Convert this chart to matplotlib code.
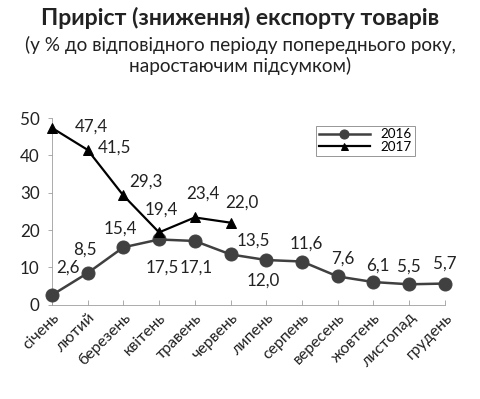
import matplotlib.pyplot as plt

plt.rcParams['font.family'] = ['Lato', 'DejaVu Sans']

months = ['січень', 'лютий', 'березень', 'квітень', 'травень', 'червень',
          'липень', 'серпень', 'вересень', 'жовтень', 'листопад', 'грудень']
v2016 = [2.6, 8.5, 15.4, 17.5, 17.1, 13.5, 12.0, 11.6, 7.6, 6.1, 5.5, 5.7]
v2017 = [47.4, 41.5, 29.3, 19.4, 23.4, 22.0]

# label offsets (px) for data labels
off2016 = [(16, 28), (-3, 23), (-3, 19), (3, -28), (1, -27), (23, 14),
           (-3, -21), (4, 18), (5, 18), (4, 16), (0, 18), (0, 20)]
off2017 = [(40, 1), (27, 2), (23, 14), (2, 23), (8, 24), (11, 20)]

fig = plt.figure(figsize=(480 / 72, 399 / 72), dpi=72)
ax = fig.add_axes([0.108, 0.236, 0.819, 0.468])

x16 = range(len(v2016))
x17 = range(len(v2017))
ax.plot(x16, v2016, color='#404040', lw=2.5, marker='o', ms=13,
        mfc='#404040', mec='#404040', clip_on=False, zorder=3, label='2016')
ax.plot(x17, v2017, color='black', lw=2.2, marker='^', ms=10,
        mfc='black', mec='black', clip_on=False, zorder=4, label='2017')

for i, v in enumerate(v2016):
    ax.annotate(f'{v:.1f}'.replace('.', ','), (i, v), xytext=off2016[i],
                textcoords='offset points', ha='center', va='center',
                fontsize=17, color='#222222')
for i, v in enumerate(v2017):
    ax.annotate(f'{v:.1f}'.replace('.', ','), (i, v), xytext=off2017[i],
                textcoords='offset points', ha='center', va='center',
                fontsize=17, color='#222222')

ax.set_xlim(0, 11)
ax.set_ylim(0, 50)
ax.set_yticks(range(0, 51, 10))
ax.set_xticks(range(12))
ax.set_xticklabels(months, rotation=45, ha='right', rotation_mode='anchor',
                   fontsize=16, color='#222222')
ax.tick_params(axis='y', labelsize=17, colors='#999999', labelcolor='#222222',
               length=4, direction='out', pad=8)
ax.tick_params(axis='x', colors='#999999', labelcolor='#222222', length=5,
               direction='in', pad=6)
for s in ['top', 'right']:
    ax.spines[s].set_visible(False)
for s in ['left', 'bottom']:
    ax.spines[s].set_color('#999999')

leg = ax.legend(loc='upper left', bbox_to_anchor=(0.655, 0.995), fontsize=13.5,
                frameon=True, fancybox=False, edgecolor='#808080',
                handlelength=3.8, borderpad=0.2, labelspacing=0.05,
                markerscale=0.7)
leg.get_frame().set_linewidth(1)

fig.text(0.5, 0.955, 'Приріст (зниження) експорту товарів', ha='center',
         va='center', fontsize=23, fontweight='bold', color='#222222')
fig.text(0.5, 0.86, '(у % до відповідного періоду попереднього року,\nнаростаючим підсумком)',
         ha='center', va='center', fontsize=19, color='#222222',
         linespacing=1.2)

fig.savefig('out.png', dpi=72)
